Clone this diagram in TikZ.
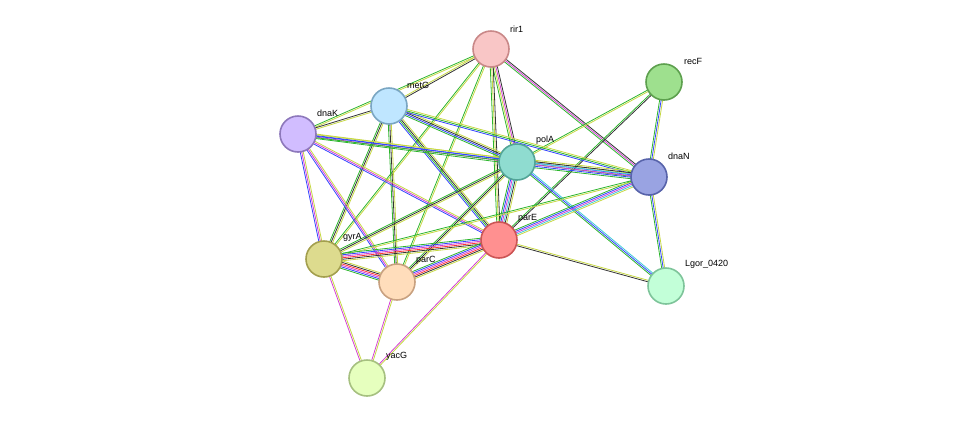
\documentclass[tikz,border=0pt]{standalone}
\usepackage{fontspec}
\setmainfont{Liberation Sans}
\usetikzlibrary{calc}
\definecolor{cGr}{HTML}{2CB52C}
\definecolor{cYg}{HTML}{C6D843}
\definecolor{cBk}{HTML}{333333}
\definecolor{cMg}{HTML}{D43FD4}
\definecolor{cBl}{HTML}{3344FF}
\definecolor{cCy}{HTML}{3FC8D8}
\definecolor{cRd}{HTML}{FF3333}
\definecolor{rir1f}{HTML}{F9C6C6}\definecolor{rir1d}{HTML}{C98888}
\definecolor{recFf}{HTML}{9EE08E}\definecolor{recFd}{HTML}{5DA04E}
\definecolor{metGf}{HTML}{BFE6FF}\definecolor{metGd}{HTML}{7AA6C2}
\definecolor{dnaKf}{HTML}{D1BDFF}\definecolor{dnaKd}{HTML}{8D78BB}
\definecolor{polAf}{HTML}{8FDCD0}\definecolor{polAd}{HTML}{53A597}
\definecolor{dnaNf}{HTML}{99A3E2}\definecolor{dnaNd}{HTML}{5763AA}
\definecolor{parEf}{HTML}{FF9090}\definecolor{parEd}{HTML}{CC5555}
\definecolor{gyrAf}{HTML}{DDDB8E}\definecolor{gyrAd}{HTML}{A39F4E}
\definecolor{parCf}{HTML}{FFDDBB}\definecolor{parCd}{HTML}{C8A180}
\definecolor{lgorf}{HTML}{C2FFD8}\definecolor{lgord}{HTML}{7EC49A}
\definecolor{yacGf}{HTML}{E6FFBE}\definecolor{yacGd}{HTML}{A6C080}
\tikzset{
prot/.style 2 args={circle,draw=#2,fill=#1,line width=1.6pt,minimum size=36pt,inner sep=0pt},
lab/.style={font=\fontsize{9}{10}\selectfont,anchor=south west,inner sep=1pt}
}
% parallel coloured lines between two nodes
\newcommand\lnk[3]{%
  \foreach \c [count=\i] in {#3}{%
    \pgfmathsetmacro\off{(\i-(#2+1)/2)*1.5}
    \draw[\c,line width=0.8pt] ($(#1)!\off pt!90:(\tgt)$) -- ($(\tgt)!\off pt!-90:(#1)$);
  }}
\begin{document}
\begin{tikzpicture}[x=1pt,y=-1pt]
\useasboundingbox (0,0) rectangle (975,424);
\coordinate (rir1) at (491,49);
\coordinate (recF) at (664,82);
\coordinate (metG) at (389,106);
\coordinate (dnaK) at (298,134);
\coordinate (polA) at (517,162);
\coordinate (dnaN) at (649,177);
\coordinate (parE) at (499,240);
\coordinate (gyrA) at (324,259);
\coordinate (parC) at (397,282);
\coordinate (lgor) at (666,286);
\coordinate (yacG) at (367,378);

\def\tgt{metG}\lnk{rir1}{2}{cYg,cBk}
\def\tgt{dnaK}\lnk{rir1}{2}{cGr,cYg}
\def\tgt{polA}\lnk{rir1}{4}{cGr,cYg,cMg,cBk}
\def\tgt{dnaN}\lnk{rir1}{3}{cGr,cMg,cBk}
\def\tgt{parE}\lnk{rir1}{3}{cGr,cYg,cBk}
\def\tgt{gyrA}\lnk{rir1}{2}{cGr,cYg}
\def\tgt{parC}\lnk{rir1}{2}{cGr,cYg}
\def\tgt{polA}\lnk{recF}{2}{cGr,cYg}
\def\tgt{dnaN}\lnk{recF}{3}{cGr,cBl,cYg}
\def\tgt{parE}\lnk{recF}{2}{cGr,cBk}
\def\tgt{dnaK}\lnk{metG}{2}{cBk,cYg}
\def\tgt{polA}\lnk{metG}{4}{cGr,cBl,cBk,cYg}
\def\tgt{dnaN}\lnk{metG}{3}{cBl,cGr,cYg}
\def\tgt{parE}\lnk{metG}{4}{cBl,cGr,cBk,cYg}
\def\tgt{gyrA}\lnk{metG}{3}{cGr,cBk,cYg}
\def\tgt{parC}\lnk{metG}{3}{cGr,cBk,cYg}
\def\tgt{polA}\lnk{dnaK}{4}{cGr,cMg,cBl,cYg}
\def\tgt{dnaN}\lnk{dnaK}{3}{cGr,cBl,cYg}
\def\tgt{parE}\lnk{dnaK}{3}{cBl,cMg,cYg}
\def\tgt{gyrA}\lnk{dnaK}{3}{cBl,cMg,cYg}
\def\tgt{parC}\lnk{dnaK}{3}{cBl,cMg,cYg}
\def\tgt{dnaN}\lnk{polA}{6}{cGr,cBl,cMg,cCy,cBk,cYg}
\def\tgt{parE}\lnk{polA}{6}{cGr,cBl,cMg,cCy,cBk,cYg}
\def\tgt{gyrA}\lnk{polA}{3}{cGr,cBk,cYg}
\def\tgt{parC}\lnk{polA}{3}{cGr,cBk,cYg}
\def\tgt{lgor}\lnk{polA}{3}{cGr,cBl,cCy}
\def\tgt{parE}\lnk{dnaN}{5}{cGr,cBl,cMg,cCy,cYg}
\def\tgt{lgor}\lnk{dnaN}{3}{cGr,cBl,cYg}
\def\tgt{gyrA}\lnk{dnaN}{2}{cGr,cYg}
\def\tgt{gyrA}\lnk{parE}{6}{cGr,cBl,cMg,cRd,cBk,cYg}
\def\tgt{parC}\lnk{parE}{6}{cGr,cBl,cMg,cRd,cBk,cYg}
\def\tgt{yacG}\lnk{parE}{2}{cMg,cYg}
\def\tgt{lgor}\lnk{parE}{2}{cBk,cYg}
\def\tgt{parC}\lnk{gyrA}{6}{cGr,cBl,cMg,cRd,cBk,cYg}
\def\tgt{yacG}\lnk{gyrA}{2}{cMg,cYg}
\def\tgt{yacG}\lnk{parC}{2}{cMg,cYg}

\node[prot={rir1f}{rir1d}] (n1) at (rir1) {};
\node[prot={recFf}{recFd}] (n2) at (recF) {};
\node[prot={metGf}{metGd}] (n3) at (metG) {};
\node[prot={dnaKf}{dnaKd}] (n4) at (dnaK) {};
\node[prot={polAf}{polAd}] (n5) at (polA) {};
\node[prot={dnaNf}{dnaNd}] (n6) at (dnaN) {};
\node[prot={parEf}{parEd}] (n7) at (parE) {};
\node[prot={gyrAf}{gyrAd}] (n8) at (gyrA) {};
\node[prot={parCf}{parCd}] (n9) at (parC) {};
\node[prot={lgorf}{lgord}] (n10) at (lgor) {};
\node[prot={yacGf}{yacGd}] (n11) at (yacG) {};

\node[lab] at (509,34) {rir1};
\node[lab] at (683,66) {recF};
\node[lab] at (406,90) {metG};
\node[lab] at (316,118) {dnaK};
\node[lab] at (535,146) {polA};
\node[lab] at (667,161) {dnaN};
\node[lab] at (517,224) {parE};
\node[lab] at (342,243) {gyrA};
\node[lab] at (415,266) {parC};
\node[lab] at (684,270) {Lgor\_0420};
\node[lab] at (385,362) {yacG};
\end{tikzpicture}
\end{document}
